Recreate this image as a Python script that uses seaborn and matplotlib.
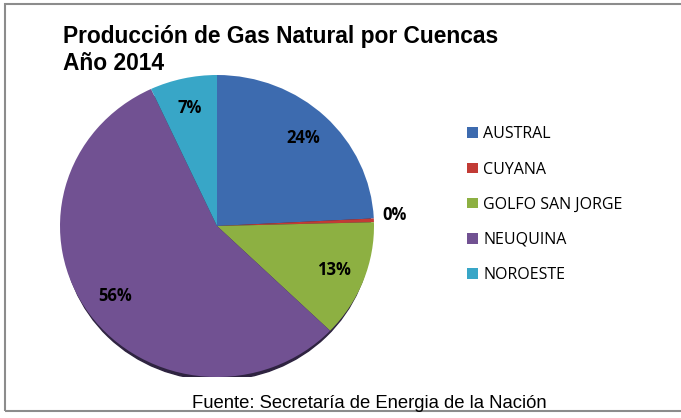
import matplotlib
matplotlib.use('Agg')
import matplotlib.pyplot as plt
import seaborn as sns
from matplotlib.patches import Rectangle, Ellipse, Patch

cuencas = ['AUSTRAL', 'CUYANA', 'GOLFO SAN JORGE', 'NEUQUINA', 'NOROESTE']
produccion = [24.2, 0.4, 12.6, 55.9, 6.9]
colores = ['#3D6BAF', '#C23B35', '#8DB042', '#715192', '#38A6C7']

sns.set_theme(style='white')
plt.rcParams['font.family'] = ['Liberation Sans', 'DejaVu Sans']
plt.rcParams['text.color'] = 'black'

fig = plt.figure(figsize=(6.81, 4.18), dpi=100)
W, H = 681, 418

# marco de la figura
fig.patches.append(Rectangle((5 / W, 1 - 411 / H), 700 / W, 407 / H, transform=fig.transFigure,
                             fill=False, edgecolor='#8c8c8c', linewidth=1.5))

cx, cy, rx, ry = 217, 226, 157, 151
ax = fig.add_axes([(cx - rx) / W, 1 - (cy + ry) / H, 2 * rx / W, 2 * ry / H])

# sombra inferior
ax.add_patch(Ellipse((0.0, -0.04), 1.96, 1.96, color='#2e2340', zorder=0))

wedges, textos, pcts = ax.pie(produccion, colors=colores, startangle=90, counterclock=False,
                              autopct='%.0f%%', pctdistance=0.8,
                              wedgeprops=dict(edgecolor='none', linewidth=0),
                              textprops=dict(fontsize=12, fontweight='bold', color='black',
                                             family=['Open Sans', 'DejaVu Sans']))
pcts[1].set_position((1.13, 0.07))
ax.set_xlim(-1, 1)
ax.set_ylim(-1, 1)
ax.set_aspect('auto')
ax.axis('off')

fig.text(63 / W, 1 - 50 / H, 'Producción de Gas Natural por Cuencas\nAño 2014', fontsize=16.4,
         fontweight='bold', va='center', ha='left', linespacing=1.18, color='black')

handles = [Patch(facecolor=c, edgecolor='none') for c in colores]
leg = fig.legend(handles, cuencas, loc='upper left', bbox_to_anchor=(453 / W, 1 - 112 / H),
                 frameon=False, handlelength=0.65, handleheight=0.65,
                 labelspacing=1.2, handletextpad=0.35,
                 prop=dict(family=['Open Sans', 'DejaVu Sans'], size=11.5))
for t in leg.get_texts():
    t.set_color('black')

fig.text(192 / W, 1 - 403 / H, 'Fuente: Secretaría de Energia de la Nación', fontsize=13.3,
         va='center', ha='left', color='black')

fig.savefig('out.png', dpi=100)
